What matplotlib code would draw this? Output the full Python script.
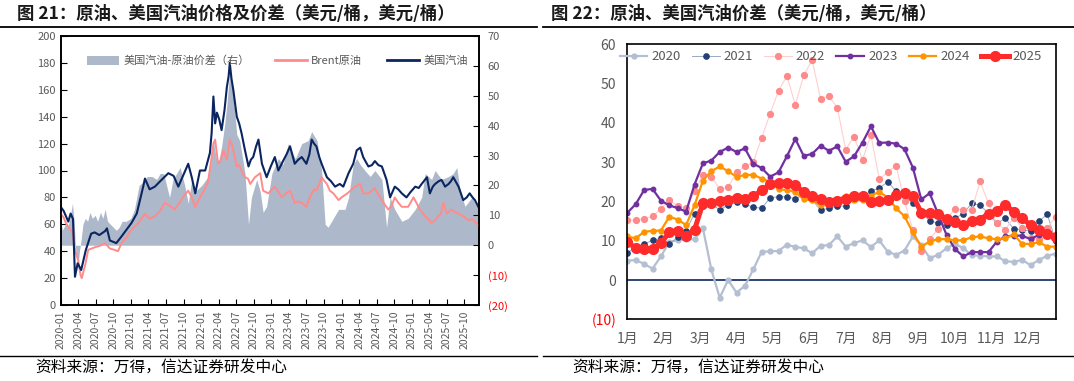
import matplotlib
matplotlib.use("Agg")
import matplotlib.pyplot as plt
from matplotlib.lines import Line2D
from matplotlib.patches import Patch

plt.rcParams['font.family'] = ['Noto Sans CJK SC', 'DejaVu Sans']
plt.rcParams['axes.unicode_minus'] = False

GRAY_TXT = "#595959"

# ---- left chart: months since 2020-01 ----
gasoline_m = [0, 0.5, 0.9, 1.3, 1.7, 2.1, 2.44, 2.9, 3.5, 4.3, 5.2, 5.8, 6.6, 7.6, 7.9, 8.4, 9.5, 10.4,
              12.1, 13, 14.1, 14.4, 15.2, 16.1, 17, 18.4, 19.3, 20.1, 21, 21.8, 22.4, 23, 23.8, 24.7,
              25.5, 25.8, 26.1, 26.4, 26.7, 27.1, 27.5, 28, 28.4, 28.7, 28.9, 29.2, 29.5, 30.1, 30.5,
              30.9, 31.5, 32.1, 32.5, 32.9, 33.4, 33.8, 34.4, 35.2, 35.9, 36.6, 37.2, 38, 38.6, 39.2,
              40, 40.6, 41.2, 42, 42.5, 42.9, 43.3, 43.7, 44.2, 44.6, 45.5, 46.2, 46.9, 47.7, 48.3,
              49.2, 50, 50.6, 51.2, 51.7, 52.2, 52.6, 53.2, 53.7, 54.3, 54.9, 55.7, 56.3, 57.1, 57.7,
              58.3, 59.1, 59.8, 60.6, 61.2, 61.7, 62.6, 63.1, 63.6, 64, 64.6, 65.1, 65.7, 66.3, 66.7,
              67.1, 68, 68.8, 69.4, 69.9, 70.4, 70.8, 71.5]
gasoline_v = [73, 70, 66, 62, 68, 64, 21, 31, 26, 41, 53, 54, 52, 55, 57, 48, 46, 51,
              61, 68, 88, 94, 86, 88, 92, 98, 96, 88, 97, 105, 95, 83, 100, 100,
              113, 128, 155, 135, 143, 138, 130, 145, 162, 170, 180, 168, 160, 140, 135,
              128, 115, 103, 108, 110, 118, 123, 105, 95, 103, 110, 100, 107, 112, 118,
              105, 108, 110, 105, 112, 123, 120, 118, 110, 105, 95, 92, 88, 90, 88,
              98, 105, 115, 117, 110, 106, 103, 104, 107, 104, 103, 93, 80, 88, 86,
              83, 80, 84, 88, 87, 90, 95, 83, 88, 90, 92, 93, 88, 90, 92,
              95, 88, 78, 80, 83, 80, 78, 72]

brent_m = [0, 0.5, 1, 1.5, 2, 2.5, 3, 3.4, 3.6, 4.2, 4.7, 5.3, 5.9, 6.7, 7.6, 8.4, 9.2, 9.8, 10.4,
           11.2, 12.1, 13.3, 14.4, 15.2, 16.1, 17, 17.8, 18.6, 19.5, 20.3, 21.2, 21.8, 22.4, 23,
           23.8, 24.5, 25.2, 25.8, 26.1, 26.4, 26.9, 27.4, 27.8, 28.4, 28.9, 29.2, 29.5, 30.1,
           30.5, 30.9, 31.5, 32, 32.4, 33.2, 34.1, 34.6, 35.5, 36.1, 36.6, 37.2, 37.8, 38.5, 39.2,
           40, 40.6, 41.2, 42, 42.5, 42.9, 43.3, 43.7, 44.2, 44.6, 45.1, 45.5, 46, 46.6, 47.5, 48,
           49, 50.3, 51.2, 51.7, 52.6, 53.2, 53.7, 54.3, 54.9, 55.5, 56, 56.6, 57.1, 57.7, 58.3,
           59.4, 60.3, 60.8, 61.4, 62.3, 62.8, 63.4, 64, 64.5, 65, 65.4, 66, 66.8, 67.4, 68, 68.8,
           69.7, 70.3, 70.8, 71.5]
brent_v = [68, 65, 60, 57, 54, 40, 33, 22, 20, 30, 41, 42, 43, 44, 46, 42, 41, 40, 46,
           50, 56, 61, 68, 64, 66, 70, 76, 74, 71, 76, 82, 85, 80, 73,
           80, 85, 92, 110, 120, 123, 105, 108, 115, 108, 123, 120, 115, 103,
           104, 100, 95, 94, 90, 95, 98, 85, 83, 86, 88, 84, 80, 83, 85,
           76, 77, 76, 73, 79, 83, 86, 85, 90, 95, 92, 90, 85, 83, 78, 80,
           83, 88, 90, 83, 83, 85, 87, 82, 78, 74, 71, 74, 80, 76, 73,
           73, 80, 76, 71, 66, 64, 61, 63, 66, 68, 76, 68, 71, 69, 68, 66,
           63, 64, 62, 59]

spread_m = [0, 0.3, 0.8, 1.2, 1.6, 2, 2.3, 2.5, 2.7, 3, 3.2, 3.5, 3.8, 4.2, 4.6, 5, 5.4, 5.9, 6.3,
            6.8, 7.2, 7.6, 8, 8.5, 9, 9.5, 10, 10.5, 11.2, 12, 12.6, 13.4, 14, 14.8, 15.6, 16.4, 17,
            17.6, 18.1, 18.6, 19.2, 19.8, 20.4, 21.2, 21.8, 22.4, 23, 24.1, 25.2, 25.7, 26.1, 26.5,
            26.9, 27.5, 28, 28.4, 28.9, 29.5, 30.1, 30.6, 31.5, 32.1, 32.6, 33.5, 34.1, 34.6, 35.2,
            36.1, 37.2, 38, 38.9, 40.1, 41.2, 42.3, 42.9, 43.8, 44.6, 45.2, 45.7, 46.6, 47.5, 48.6,
            49.2, 50, 50.6, 51.2, 52, 52.9, 53.7, 54.9, 55.7, 56.3, 57.1, 58.3, 59.4, 60.6, 61.7,
            62.3, 63.4, 64, 65.1, 66.3, 67.1, 67.7, 68.3, 69.1, 70.3, 71.1, 71.5]
spread_v = [8, 5, 7, 6, 9, 14, 8, 0, -4, -6, -2, 2, 7, 9, 8, 11, 9, 10, 8,
            11, 9, 12, 8, 7, 6, 5, 6, 8, 8, 9, 12, 20, 21, 23, 23, 22, 24,
            24, 20, 16, 22, 24, 26, 20, 14, 22, 18, 20, 23, 28, 35, 30,
            27, 33, 40, 47, 58, 50, 37, 35, 24, 7, 16, 22, 18, 11, 13,
            24, 29, 27, 34, 29, 34, 35, 38, 35, 25, 7, 6, 9, 12, 12,
            16, 27, 29, 27, 25, 23, 25, 22, 6, 16, 12, 8, 9, 12, 16,
            24, 22, 25, 22, 23, 24, 26, 18, 13, 16, 13, 12]

date_ticks = [0, 3, 6, 9, 12, 15, 18, 21, 24, 27, 30, 33, 36, 39, 42, 45, 48, 51, 54, 57, 60, 63, 66, 69]
date_labels = ["2020-01", "2020-04", "2020-07", "2020-10", "2021-01", "2021-04", "2021-07", "2021-10",
               "2022-01", "2022-04", "2022-07", "2022-10", "2023-01", "2023-04", "2023-07", "2023-10",
               "2024-01", "2024-04", "2024-07", "2024-10", "2025-01", "2025-04", "2025-07", "2025-10"]

# ---- right chart: weekly crack spread by year ----
years = ["2020", "2021", "2022", "2023", "2024", "2025"]
crack_2020 = [4.9, 5.1, 4.1, 2.9, 6.0, 9.7, 10.1, 10.4, 10.4, 13.2, 2.7, -4.5, 0.0, -3.2, -1.5, 2.7, 7.2, 7.3,
              7.4, 9.0, 8.4, 8.1, 6.8, 8.7, 8.9, 11.1, 8.5, 9.4, 10.1, 8.4, 10.1, 7.2, 6.4, 7.5, 11.1, 8.9,
              5.6, 6.4, 8.1, 9.2, 8.1, 6.3, 6.2, 6.0, 6.0, 4.8, 4.6, 5.1, 3.8, 5.1, 6.2, 6.7]
crack_2021 = [6.8, 8.5, 9.2, 10.1, 10.6, 9.2, 10.9, 12.6, 16.9, 18.8, 19.5, 17.8, 19.1, 19.8, 19.3, 18.5, 18.3,
              20.9, 21.2, 21.2, 20.7, 21.7, 20.5, 17.8, 18.3, 18.8, 18.8, 20.5, 21.0, 22.7, 23.4, 25.0, 22.6,
              21.4, 19.5, 17.2, 15.0, 14.5, 14.0, 15.7, 16.9, 19.5, 19.0, 17.0, 14.4, 15.7, 13.0, 12.8, 12.5,
              15.0, 16.7, 10.0]
crack_2022 = [15.2, 15.2, 15.6, 16.2, 18.1, 20.3, 18.8, 18.3, 22.6, 26.8, 26.3, 23.2, 23.6, 27.4, 28.9, 30.0,
              36.2, 42.3, 48.2, 51.9, 44.6, 52.1, 56.0, 46.2, 46.8, 43.9, 33.2, 36.5, 30.6, 36.9, 25.6, 27.5,
              29.1, 20.0, 12.8, 7.5, 10.5, 13.0, 15.5, 18.1, 17.9, 17.8, 25.1, 19.5, 14.4, 12.8, 15.9, 13.2,
              10.7, 10.4, 13.2, 16.1]
crack_2023 = [17.1, 19.3, 22.9, 23.2, 20.2, 19.0, 18.3, 17.4, 24.3, 29.7, 30.4, 32.6, 33.7, 32.6, 33.5, 29.6,
              28.5, 26.3, 27.4, 31.5, 35.9, 31.6, 32.1, 34.2, 32.9, 34.0, 30.1, 31.5, 35.0, 39.1, 34.9, 35.0,
              34.7, 33.3, 28.6, 20.5, 22.1, 16.8, 11.5, 7.9, 6.0, 7.1, 7.1, 7.1, 9.8, 11.1, 11.3, 11.3, 10.4,
              11.5, 11.5, 9.9]
crack_2024 = [11.1, 10.6, 12.3, 12.5, 12.6, 16.1, 15.4, 14.0, 19.0, 25.3, 27.7, 28.9, 27.7, 26.3, 26.7, 26.8,
              25.8, 25.0, 23.1, 22.9, 22.4, 20.5, 20.3, 19.0, 20.2, 20.5, 21.4, 20.3, 20.3, 21.5, 22.4, 21.0,
              18.3, 16.2, 12.1, 8.5, 9.8, 10.4, 10.4, 10.1, 10.1, 10.9, 11.1, 10.6, 10.4, 10.6, 11.6, 9.2, 9.2,
              9.6, 8.5, 8.5]
crack_2025 = [9.6, 8.2, 7.9, 7.9, 9.4, 12.1, 12.6, 11.1, 12.8, 19.5, 19.7, 20.0, 20.3, 21.0, 20.5, 21.3, 22.8,
              24.4, 24.8, 24.6, 24.1, 22.4, 21.4, 20.5, 19.8, 20.2, 20.5, 21.5, 21.4, 19.8, 20.2, 20.3, 21.7,
              22.1, 21.5, 17.1, 17.1, 16.8, 15.6, 14.7, 14.0, 15.0, 15.4, 16.9, 17.6, 19.1, 17.4, 15.7, 14.0,
              12.8, 11.8, 10.9]
month_labels = ["1月", "2月", "3月", "4月", "5月", "6月", "7月", "8月", "9月", "10月", "11月", "12月"]

W, H = 1074, 381
fig = plt.figure(figsize=(W / 100, H / 100), dpi=100)


def fx(px):
    return px / W


def fy(py):
    return 1 - py / H


# titles, rules and source notes
fig.text(fx(17), fy(14), "图 21：原油、美国汽油价格及价差（美元/桶，美元/桶）", fontsize=12.5,
         fontweight="bold", color="#1a1a1a", va="center", ha="left")
fig.text(fx(551), fy(14), "图 22：原油、美国汽油价差（美元/桶，美元/桶）", fontsize=12.5,
         fontweight="bold", color="#1a1a1a", va="center", ha="left")
for x0, x1 in [(0, 537), (543, 1074)]:
    fig.add_artist(Line2D([fx(x0), fx(x1)], [fy(27), fy(27)], color="black", lw=1.3))
    fig.add_artist(Line2D([fx(x0), fx(x1)], [fy(356), fy(356)], color="black", lw=1.0))
fig.text(fx(35), fy(367), "资料来源：万得，信达证券研发中心", fontsize=11.3, color="black", va="center")
fig.text(fx(572), fy(367), "资料来源：万得，信达证券研发中心", fontsize=11.3, color="black", va="center")

# ---- left chart ----
ax = fig.add_axes([fx(60.7), fy(305), fx(479.3 - 60.7), (305 - 36) / H])
ax2 = ax.twinx()
ax2.fill_between(spread_m, 0, spread_v, color="#ADB9CA", lw=0)
ax.plot(brent_m, brent_v, color="#FF8B8B", lw=1.4)
ax.plot(gasoline_m, gasoline_v, color="#0B2560", lw=1.5)
ax.set_zorder(ax2.get_zorder() + 1)
ax.patch.set_visible(False)

ax.set_xlim(0, 71.55)
ax.set_ylim(0, 200)
ax.set_yticks(range(0, 201, 20))
ax2.set_ylim(-20, 70)
right_ticks = list(range(-20, 71, 10))
ax2.set_yticks(right_ticks)
ax2.set_yticklabels([f"({abs(t)})" if t < 0 else str(t) for t in right_ticks])
for lbl, t in zip(ax2.get_yticklabels(), right_ticks):
    lbl.set_color("red" if t < 0 else GRAY_TXT)
ax.set_xticks(date_ticks)
ax.set_xticklabels(date_labels, rotation=90)
ax.tick_params(axis="both", direction="in", length=4, labelsize=8, labelcolor=GRAY_TXT, width=0.8)
ax.tick_params(axis="x", pad=4, labelsize=7.5)
ax2.tick_params(axis="y", direction="in", length=4, labelsize=8, width=0.8, pad=6)
for a in (ax, ax2):
    for s in a.spines.values():
        s.set_color("black")
        s.set_linewidth(1.2)

leg_handles = [Patch(facecolor="#ADB9CA", edgecolor="none"),
               Line2D([], [], color="#FF8B8B", lw=2),
               Line2D([], [], color="#0B2560", lw=2)]
ax.legend(leg_handles, ["美国汽油-原油价差（右）", "Brent原油", "美国汽油"], loc="center",
          bbox_to_anchor=(0.518, 0.907), ncol=3, frameon=False, fontsize=8, labelcolor=GRAY_TXT,
          handlelength=2.9, handleheight=0.9, columnspacing=2.2, handletextpad=0.4)

# ---- right chart ----
bx = fig.add_axes([fx(627.3), fy(319.3), fx(1055.7 - 627.3), (319.3 - 44.3) / H])
weeks = list(range(52))
styles = [
    (crack_2020, dict(color="#B4BFD2", lw=1.6, marker="o", ms=3.5, mfc="#B4BFD2", mec="#B4BFD2")),
    (crack_2021, dict(color="#9AAAC4", lw=0.7, marker="o", ms=3.8, mfc="#243F72", mec="#243F72")),
    (crack_2022, dict(color="#FFCFCF", lw=0.8, marker="o", ms=4.2, mfc="#FF8A8A", mec="#FF8A8A")),
    (crack_2023, dict(color="#7030A0", lw=1.6, marker="o", ms=3.2, mfc="#7030A0", mec="#7030A0")),
    (crack_2024, dict(color="#FF9300", lw=1.6, marker="o", ms=3.6, mfc="#FF9300", mec="#FF9300")),
    (crack_2025, dict(color="#FF2B2B", lw=3.6, marker="o", ms=7, mfc="#FF2B2B", mec="#FF2B2B")),
]
for (vals, st), yr in zip(styles, years):
    bx.plot(weeks, vals, label=yr, **st)
bx.axhline(0, color="#0B2560", lw=1.2, zorder=1)
bx.set_xlim(0, 51)
bx.set_ylim(-10, 60)
yt = list(range(-10, 61, 10))
bx.set_yticks(yt)
bx.set_yticklabels([f"({abs(t)})" if t < 0 else str(t) for t in yt])
for lbl, t in zip(bx.get_yticklabels(), yt):
    lbl.set_color("red" if t < 0 else GRAY_TXT)
bx.set_xticks([m * 52 / 12 for m in range(12)])
bx.set_xticklabels(month_labels)
bx.tick_params(axis="both", length=0, labelsize=10, pad=8)
bx.tick_params(axis="x", labelcolor=GRAY_TXT, pad=9)
for s in bx.spines.values():
    s.set_color("black")
    s.set_linewidth(1.2)
bx.legend(loc="center", bbox_to_anchor=(0.475, 0.955), ncol=6, frameon=False, fontsize=9.5,
          labelcolor=GRAY_TXT, handlelength=2.1, columnspacing=0.85, handletextpad=0.3)

fig.savefig("out.png", dpi=100)
